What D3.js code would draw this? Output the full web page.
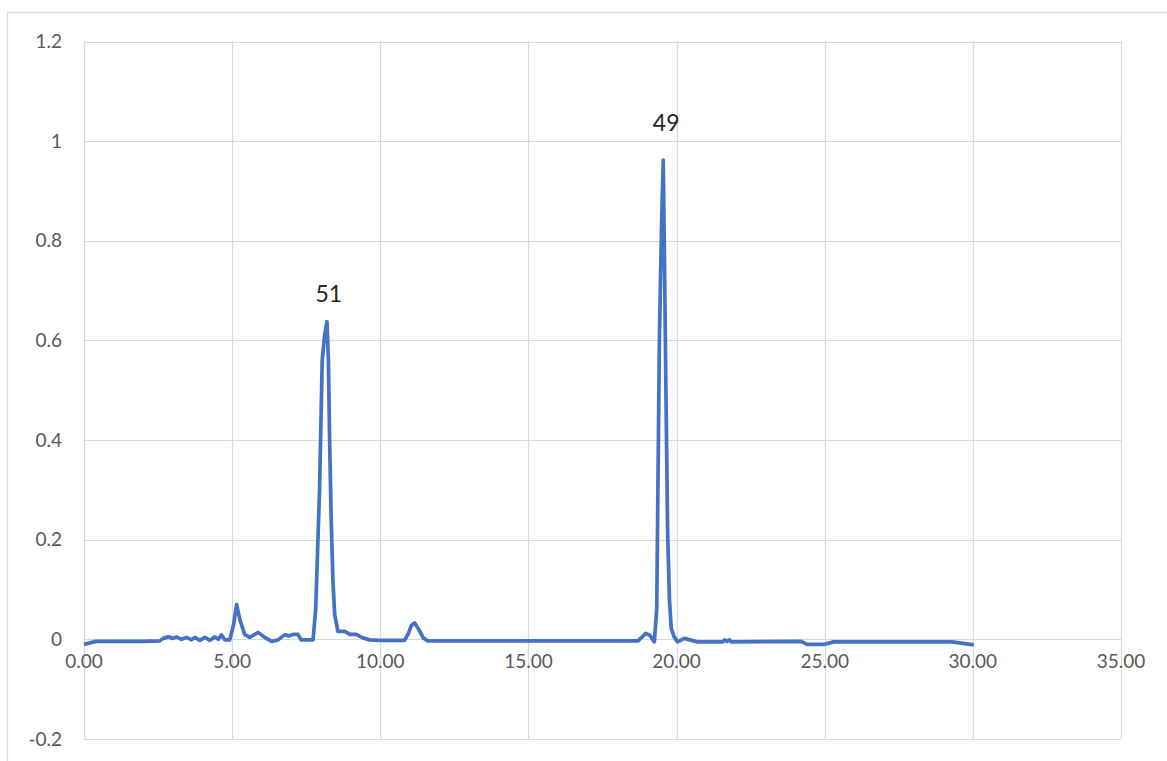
<!DOCTYPE html>
<html>
<head>
<meta charset="utf-8">
<style>
  body { margin: 0; background: #fff; }
  #vis-chrom { width: 1167px; height: 761px; }
</style>
</head>
<body>

<div class='vis' id='vis-chrom'></div>

<script src="https://d3js.org/d3.v7.min.js"></script>

<script>

	// Data //
	// ---- //

	// retention time (min)
	const times = [
		0.00, 0.40, 1.00, 2.00, 2.56, 2.67, 2.84, 3.01, 3.12, 3.29,
		3.46, 3.63, 3.74, 3.91, 4.08, 4.25, 4.42, 4.53, 4.64, 4.75,
		4.92, 5.05, 5.15, 5.26, 5.42, 5.59, 5.88, 6.10, 6.33, 6.55,
		6.77, 6.94, 7.05, 7.22, 7.33, 7.73, 7.82, 7.95, 8.04, 8.12,
		8.20, 8.25, 8.29, 8.34, 8.40, 8.46, 8.57, 8.80, 8.97, 9.19,
		9.41, 9.64, 10.00, 10.82, 10.95, 11.05, 11.16, 11.30, 11.45, 11.60,
		12.00, 15.00, 18.70, 18.96, 19.10, 19.25, 19.33, 19.42, 19.49, 19.55,
		19.60, 19.64, 19.70, 19.76, 19.82, 19.92, 20.03, 20.26, 20.70, 21.55,
		21.62, 21.70, 21.78, 21.85, 24.20, 24.40, 25.00, 25.30, 29.30, 30.03
	];

	// detector signal
	const signal = [
		-0.010, -0.004, -0.004, -0.004, -0.003, 0.002, 0.005, 0.002, 0.005, 0.000,
		0.004, -0.001, 0.004, -0.002, 0.004, -0.002, 0.005, 0.000, 0.009, -0.001,
		-0.001, 0.030, 0.070, 0.040, 0.010, 0.004, 0.014, 0.004, -0.004, -0.001,
		0.009, 0.007, 0.010, 0.010, -0.001, -0.001, 0.060, 0.300, 0.560, 0.610,
		0.638, 0.560, 0.400, 0.250, 0.120, 0.050, 0.016, 0.016, 0.010, 0.010,
		0.003, -0.001, -0.002, -0.002, 0.012, 0.028, 0.033, 0.020, 0.003, -0.003,
		-0.003, -0.003, -0.003, 0.012, 0.008, -0.005, 0.060, 0.600, 0.820, 0.962,
		0.720, 0.500, 0.210, 0.080, 0.022, 0.005, -0.005, 0.002, -0.005, -0.005,
		-0.001, -0.004, -0.001, -0.005, -0.004, -0.010, -0.010, -0.005, -0.005, -0.011
	];

	// peak labels
	const peakText = ["51", "49"];
	const peakTime = [8.26, 19.65];
	const peakLevel = [0.678, 1.02];

	// ticks
	const xTicks = [0, 5, 10, 15, 20, 25, 30, 35];
	const yTicks = [-0.2, 0, 0.2, 0.4, 0.6, 0.8, 1, 1.2];
	const yTickLabels = ["-0.2", "0", "0.2", "0.4", "0.6", "0.8", "1", "1.2"];


	// Setup //
	// ----- //

	const W = 1167, H = 761;
	const margin_ = {top: 41.5, right: 46, bottom: 22, left: 84};

	const svg = d3.select("#vis-chrom")
		.append("svg")
			.attr("width", W)
			.attr("height", H)
			.style("font-family", "Lato, 'Open Sans', sans-serif");

	// chart area border (Excel frame)
	svg.append("rect")
		.attr("x", 7.5)
		.attr("y", 12.5)
		.attr("width", W + 10)
		.attr("height", H + 10)
		.attr("fill", "none")
		.attr("stroke", "#d9d9d9")
		.attr("stroke-width", 1.3);

	const x = d3.scaleLinear().domain([0, 35]).range([margin_.left, W - margin_.right]);
	const y = d3.scaleLinear().domain([-0.2, 1.2]).range([H - margin_.bottom, margin_.top]);

	// grid
	svg.append("g")
		.selectAll("line")
		.data(yTicks)
		.join("line")
			.attr("x1", x(0))
			.attr("x2", x(35))
			.attr("y1", d => Math.round(y(d)) + 0.5)
			.attr("y2", d => Math.round(y(d)) + 0.5)
			.attr("stroke", "#d9d9d9")
			.attr("stroke-width", 1.2);

	svg.append("g")
		.selectAll("line")
		.data(xTicks)
		.join("line")
			.attr("x1", d => Math.round(x(d)) + 0.5)
			.attr("x2", d => Math.round(x(d)) + 0.5)
			.attr("y1", y(1.2))
			.attr("y2", y(-0.2))
			.attr("stroke", "#d9d9d9")
			.attr("stroke-width", 1.2);

	// y labels
	svg.append("g")
		.selectAll("text")
		.data(yTicks)
		.join("text")
			.attr("x", 62)
			.attr("y", d => y(d))
			.attr("dy", "0.35em")
			.attr("text-anchor", "end")
			.attr("fill", "#595959")
			.style("font-size", "19px")
			.text((d, i) => yTickLabels[i]);

	// x labels (sit under the zero line)
	svg.append("g")
		.selectAll("text")
		.data(xTicks)
		.join("text")
			.attr("x", d => x(d))
			.attr("y", y(0) + 29)
			.attr("text-anchor", "middle")
			.attr("fill", "#595959")
			.style("font-size", "19px")
			.text(d => d3.format(".2f")(d));

	// trace
	const line = d3.line()
		.x((d, i) => x(times[i]))
		.y(d => y(d));

	svg.append("path")
		.datum(signal)
		.attr("d", line)
		.attr("fill", "none")
		.attr("stroke", "#4472c4")
		.attr("stroke-width", 3.7)
		.attr("stroke-linejoin", "round");

	// peak labels
	svg.append("g")
		.selectAll("text")
		.data(peakText)
		.join("text")
			.attr("x", (d, i) => x(peakTime[i]))
			.attr("y", (d, i) => y(peakLevel[i]))
			.attr("text-anchor", "middle")
			.attr("fill", "#262626")
			.style("font-size", "23px")
			.text(d => d);

</script>
</body>
</html>
